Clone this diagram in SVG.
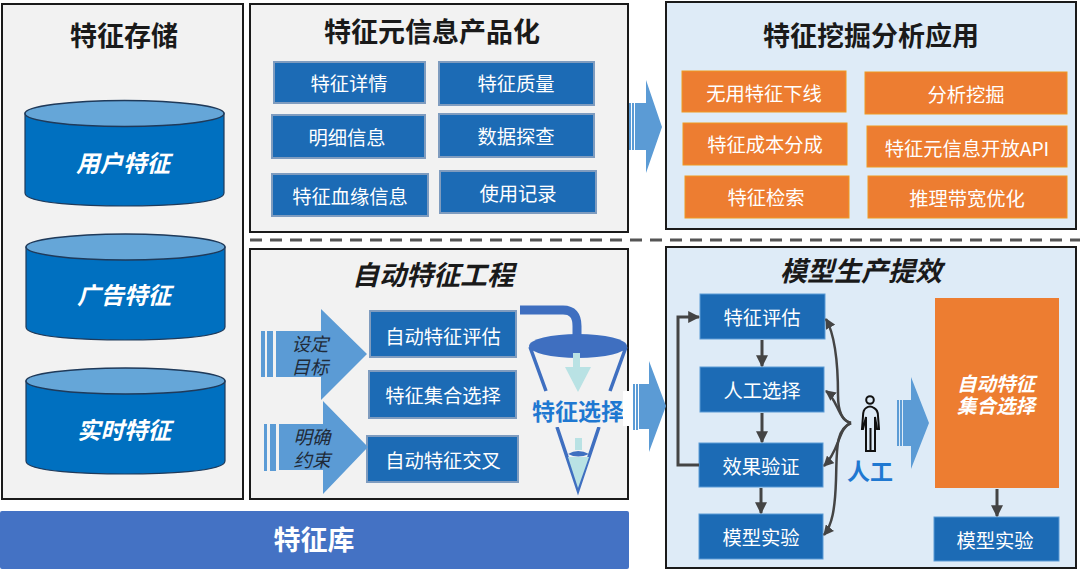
<svg xmlns="http://www.w3.org/2000/svg" width="1080" height="573" viewBox="0 0 1080 573">
<style>
text{font-family:"Noto Sans CJK SC","Noto Sans",sans-serif;text-anchor:middle}
.panel{fill:#f2f2f2;stroke:#1a1a1a;stroke-width:2}
.bluepanel{fill:#deebf7;stroke:#1a1a1a;stroke-width:2}
.title{font-size:27px;font-weight:700;fill:#1a1a1a}
.tit2{font-style:italic}
.box{fill:#1c6bb5;stroke:#7f9cbf;stroke-width:2}
.flat{fill:#1c6bb5;stroke:#5b9bd5;stroke-width:1}
.lbl{font-size:19.300px;fill:#fff}
.orange{fill:#ed7d31;stroke:#f09a20;stroke-width:1}
.cylb{fill:#0070c0;stroke:#1f3a5a;stroke-width:1.2}
.cylt{fill:#65a6d8;stroke:#1f3a5a;stroke-width:1.5}
.cyltx{font-size:23.500px;font-weight:700;font-style:italic;fill:#fff}
.arrow{fill:#5b9bd5}
.dk{font-size:18.500px;font-style:italic;fill:#1f2a38}
.conn{fill:none;stroke:#444;stroke-width:3}
.curve{stroke-width:2.500}
</style>
<defs>
<marker id="ah" viewBox="0 0 10 10" refX="9" refY="5" markerWidth="4" markerHeight="4" orient="auto"><path d="M0 0L10 5L0 10z" fill="#444"/></marker>
<marker id="ah2" viewBox="0 0 10 10" refX="9" refY="5" markerWidth="4.200" markerHeight="4.200" orient="auto"><path d="M0 0L10 5L0 10z" fill="#444"/></marker>
</defs>

<g id="panel-storage">
<rect class="panel" x="2" y="4" width="241" height="495"/>
<text class="title" x="124" y="46">特征存储</text>
</g>
<g id="cyl-user">
<path class="cylb" d="M25 113V193C25 204 90 206 124 206C160 206 224 204 224 193V113z"/>
<ellipse class="cylt" cx="124.500" cy="113.500" rx="99.500" ry="13"/>
<text class="cyltx" x="123" y="172">用户特征</text>
</g>
<g id="cyl-ad">
<path class="cylb" d="M26 247V327C26 338 90 340 125 340C160 340 225 338 225 327V247z"/>
<ellipse class="cylt" cx="125.500" cy="247" rx="99.500" ry="13"/>
<text class="cyltx" x="124" y="304">广告特征</text>
</g>
<g id="cyl-realtime">
<path class="cylb" d="M26 381V461C26 472 90 474 125 474C160 474 225 472 225 461V381z"/>
<ellipse class="cylt" cx="125.500" cy="381" rx="99.500" ry="13"/>
<text class="cyltx" x="124" y="439">实时特征</text>
</g>

<g id="panel-meta">
<rect class="panel" x="250" y="4" width="378" height="228"/>
<text class="title" x="432" y="42">特征元信息产品化</text>
</g>
<g id="m1"><rect class="box" x="274" y="62" width="151" height="41"/><text class="lbl" x="349" y="91">特征详情</text></g>
<g id="m2"><rect class="box" x="439" y="62" width="155" height="43"/><text class="lbl" x="516" y="91">特征质量</text></g>
<g id="m3"><rect class="box" x="272" y="115" width="153" height="43"/><text class="lbl" x="347" y="145">明细信息</text></g>
<g id="m4"><rect class="box" x="439" y="114" width="155" height="43"/><text class="lbl" x="516" y="144">数据探查</text></g>
<g id="m5"><rect class="box" x="272" y="174" width="156" height="42"/><text class="lbl" x="350" y="204">特征血缘信息</text></g>
<g id="m6"><rect class="box" x="440" y="171" width="156" height="42"/><text class="lbl" x="518" y="201">使用记录</text></g>

<g id="panel-mining">
<rect class="bluepanel" x="666" y="2" width="410" height="227"/>
<text class="title" x="871" y="46">特征挖掘分析应用</text>
</g>
<g id="o1"><rect class="orange" x="682" y="71" width="164" height="41"/><text class="lbl" x="764" y="101">无用特征下线</text></g>
<g id="o2"><rect class="orange" x="865" y="72" width="202" height="42"/><text class="lbl" x="966" y="102">分析挖掘</text></g>
<g id="o3"><rect class="orange" x="683" y="123" width="164" height="42"/><text class="lbl" x="765" y="152">特征成本分成</text></g>
<g id="o4"><rect class="orange" x="867" y="126" width="200" height="41"/><text class="lbl" x="967" y="156">特征元信息开放API</text></g>
<g id="o5"><rect class="orange" x="685" y="176" width="164" height="42"/><text class="lbl" x="766" y="205">特征检索</text></g>
<g id="o6"><rect class="orange" x="868" y="176" width="199" height="42"/><text class="lbl" x="967" y="206">推理带宽优化</text></g>

<g id="divider"><line x1="250" y1="240" x2="1080" y2="240" stroke="#555" stroke-width="3" stroke-dasharray="12 8"/></g>

<g id="panel-auto">
<rect class="panel" x="250" y="249" width="378" height="250"/>
<text class="title tit2" x="433" y="285">自动特征工程</text>
</g>
<g id="a1"><rect class="box" x="370" y="311" width="146" height="46"/><text class="lbl" x="443" y="344">自动特征评估</text></g>
<g id="a2"><rect class="box" x="369" y="371" width="147" height="47"/><text class="lbl" x="443" y="403">特征集合选择</text></g>
<g id="a3"><rect class="box" x="367" y="436" width="151" height="46"/><text class="lbl" x="443" y="468">自动特征交叉</text></g>

<g id="arrow-goal">
<path class="arrow" d="M261 331h4v46h-4zM267 331h6v46h-6zM276 331h45v-22l46 45l-46 46v-23h-45z"/>
<text class="dk"><tspan x="310" y="351">设定</tspan><tspan x="310" y="374">目标</tspan></text>
</g>
<g id="arrow-constraint">
<path class="arrow" d="M264 424h3v47h-3zM270 424h6v47h-6zM279 424h44v-23l45 46l-45 47v-24h-44z"/>
<text class="dk"><tspan x="312" y="444">明确</tspan><tspan x="312" y="467">约束</tspan></text>
</g>

<g id="funnel">
<path d="M520 310H563Q577 310 577 326V338" fill="none" stroke="#3f6fc0" stroke-width="9"/>
<path d="M530 347L546 391M626 347L610 391M557 427L578 490L599 427" fill="none" stroke="#3f6fc0" stroke-width="3.500"/>
<ellipse cx="578" cy="346" rx="49" ry="12" fill="#3f6fc0"/>
<path d="M573 353h7v14h11l-13 25l-13-25h8z" fill="#b9e2e4"/>
<path d="M575 438h7v12h-7zM568 457h21l-11 31z" fill="#b9e2e4"/>
<path d="M568 454Q578 448 589 454Q578 459 568 454z" fill="#3f6fc0"/>
<rect x="527" y="392" width="96" height="35" fill="#f2f2f2"/>
<text x="578" y="420" style="font-size:23px;font-weight:700" fill="#1f78d1">特征选择</text>
</g>

<g id="panel-model">
<rect class="bluepanel" x="666" y="247" width="410" height="321"/>
<text class="title tit2" x="861" y="281">模型生产提效</text>
</g>
<g id="b1"><rect class="flat" x="700" y="294" width="125" height="45"/><text class="lbl" x="762" y="325">特征评估</text></g>
<g id="b2"><rect class="flat" x="700" y="367" width="124" height="45"/><text class="lbl" x="762" y="398">人工选择</text></g>
<g id="b3"><rect class="flat" x="699" y="443" width="124" height="44"/><text class="lbl" x="761" y="474">效果验证</text></g>
<g id="b4"><rect class="flat" x="699" y="514" width="124" height="45"/><text class="lbl" x="761" y="545">模型实验</text></g>
<g id="person" fill="none" stroke="#111" stroke-width="2">
<circle cx="870" cy="400" r="3.800"/>
<path d="M866 408Q870 405 874 408Q878 410 878 416L879 429H877L875 417V451H866V417L863 429H862L863 416Q863 410 866 408zM870.500 428V451"/>
</g>
<text x="870" y="480" style="font-size:23px;font-weight:700" fill="#1f78d1">人工</text>
<g id="auto-select"><rect x="935" y="298" width="124" height="190" fill="#ed7d31"/>
<text style="font-size:19.500px;font-weight:700;font-style:italic" fill="#fff"><tspan x="996" y="391">自动特征</tspan><tspan x="996" y="413">集合选择</tspan></text></g>
<g id="b5"><rect class="flat" x="934" y="517" width="125" height="44"/><text class="lbl" x="995" y="548">模型实验</text></g>

<g id="arrows-large">
<path class="arrow" d="M629 103h2v47h-2zM632 103h2v47h-2zM635 103h11v-23l16 47l-16 46v-23h-11z"/>
<path class="arrow" d="M633 384h2v46h-2zM636 384h2v46h-2zM639 384h10v-23l17 45l-17 46v-23h-10z"/>
<path class="arrow" d="M897 400h2v46h-2zM900 400h2v46h-2zM903 400h8v-23l18 46l-18 46v-23h-8z"/>
</g>
<rect x="623" y="391" width="9" height="35" fill="#fff"/>

<g id="connectors">
<path class="conn" marker-end="url(#ah)" d="M762 340V366"/>
<path class="conn" marker-end="url(#ah)" d="M762 413V442"/>
<path class="conn" marker-end="url(#ah)" d="M761 488V513"/>
<path class="conn" marker-end="url(#ah)" d="M997 489V516"/>
<path class="conn" marker-end="url(#ah)" d="M699 465H678V317H699"/>
<path class="conn curve" marker-end="url(#ah2)" d="M851 423Q838 420 838 395C838 360 835 335 826 319"/>
<path class="conn curve" marker-end="url(#ah2)" d="M851 423C838 420 838 400 826 391"/>
<path class="conn curve" marker-end="url(#ah2)" d="M851 423C838 428 840 450 824 466"/>
<path class="conn curve" marker-end="url(#ah2)" d="M851 423C835 430 837 450 836 480C835 510 832 525 824 535"/>
</g>

<g id="feature-lib">
<rect x="0" y="511" width="629" height="58" rx="2" fill="#4472c4"/>
<text x="314" y="550" style="font-size:27px;font-weight:700" fill="#fff">特征库</text>
</g>
</svg>
